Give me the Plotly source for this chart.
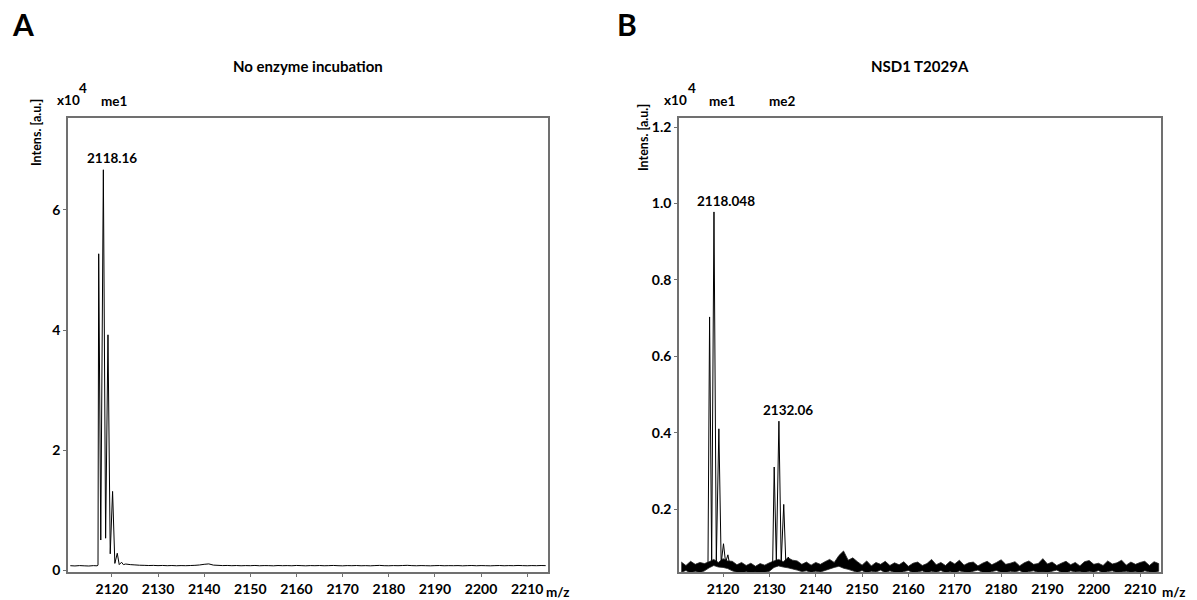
import plotly.graph_objects as go

# ---------------- Panel A: no enzyme incubation (intensity x10^4) ----------------
a_peak_mz = [2116.8, 2117.0, 2117.15, 2117.6, 2118.16, 2118.65, 2119.16, 2119.65,
             2120.16, 2120.65, 2121.17, 2121.6, 2122.1, 2122.5]
a_peak_int = [0.07, 0.08, 5.27, 0.50, 6.67, 0.53, 3.92, 0.27,
              1.31, 0.11, 0.28, 0.09, 0.13, 0.09]

a_base_mz = list(range(2111, 2117)) + list(range(2123, 2215))
a_base_int = [
    0.072, 0.068, 0.074, 0.070, 0.067, 0.073,
    0.100, 0.090, 0.085, 0.080, 0.078, 0.075, 0.077, 0.073, 0.076, 0.072,
    0.075, 0.071, 0.074, 0.072, 0.075, 0.078, 0.084, 0.095, 0.102, 0.082,
    0.078, 0.074, 0.076, 0.072, 0.075, 0.071, 0.074, 0.072,
    0.076, 0.071, 0.074, 0.073, 0.070, 0.075, 0.072, 0.074, 0.071, 0.076,
    0.073, 0.070, 0.074, 0.072, 0.075, 0.071, 0.073, 0.076, 0.072, 0.070,
    0.074, 0.072, 0.075, 0.071, 0.073, 0.070, 0.074, 0.077, 0.072, 0.071,
    0.074, 0.072, 0.075, 0.078, 0.073, 0.071, 0.074, 0.072, 0.070, 0.073,
    0.075, 0.071, 0.073, 0.072, 0.074, 0.070, 0.073, 0.075, 0.071, 0.074,
    0.072, 0.070, 0.073, 0.075, 0.071, 0.074, 0.072, 0.076, 0.073, 0.071,
    0.074, 0.072, 0.075, 0.073,
]

# ---------------- Panel B: NSD1 T2029A (intensity x10^4) ----------------
b_me1_mz = [2116.75, 2117.1, 2117.55, 2118.048, 2118.55, 2119.1, 2119.6,
            2120.1, 2120.55, 2121.05, 2121.5]
b_me1_int = [0.05, 0.703, 0.065, 0.978, 0.062, 0.41, 0.058,
             0.109, 0.06, 0.08, 0.05]
b_me2_mz = [2130.7, 2131.04, 2131.5, 2132.06, 2132.55, 2133.1, 2133.55,
            2134.1, 2134.5]
b_me2_int = [0.05, 0.31, 0.062, 0.43, 0.06, 0.212, 0.058, 0.074, 0.05]

# baseline noise envelope (upper / lower) per m/z unit
b_noise_mz = list(range(2111, 2215))
b_noise_hi = [
    0.061, 0.052, 0.063, 0.055, 0.060, 0.057,
    0.062, 0.068, 0.060, 0.070, 0.064,
    0.063, 0.054, 0.060, 0.052, 0.058, 0.050, 0.057, 0.053, 0.059,
    0.064, 0.068, 0.062, 0.072, 0.066,
    0.064, 0.055, 0.061, 0.053, 0.060, 0.055, 0.062,
    0.068, 0.060, 0.078, 0.090, 0.066, 0.072,
    0.062, 0.053, 0.064, 0.051, 0.060, 0.055, 0.063, 0.052, 0.059, 0.054,
    0.062, 0.050, 0.058, 0.061, 0.052, 0.057, 0.068, 0.054, 0.060, 0.052,
    0.063, 0.056, 0.066, 0.053, 0.059, 0.061, 0.051, 0.058, 0.063, 0.054,
    0.060, 0.067, 0.055, 0.058, 0.062, 0.051, 0.059, 0.064, 0.055, 0.057,
    0.070, 0.056, 0.061, 0.052, 0.058, 0.063, 0.054, 0.060, 0.051, 0.062,
    0.065, 0.055, 0.058, 0.052, 0.064, 0.056, 0.059, 0.066, 0.053, 0.061,
    0.055, 0.060, 0.063, 0.052, 0.062, 0.057,
]
b_noise_lo = [
    0.034, 0.039, 0.032, 0.037, 0.033, 0.038,
    0.046, 0.052, 0.048, 0.047, 0.044,
    0.038, 0.034, 0.031, 0.036, 0.032, 0.035, 0.030, 0.034, 0.037,
    0.047, 0.051, 0.048, 0.046, 0.043,
    0.040, 0.036, 0.038, 0.034, 0.037, 0.035, 0.039,
    0.043, 0.047, 0.050, 0.045, 0.042, 0.038,
    0.034, 0.039, 0.032, 0.037, 0.035, 0.040, 0.033, 0.038, 0.034, 0.031,
    0.036, 0.039, 0.033, 0.035, 0.038, 0.032, 0.037, 0.034, 0.039, 0.033,
    0.036, 0.031, 0.038, 0.035, 0.033, 0.037, 0.040, 0.034, 0.032, 0.036,
    0.039, 0.034, 0.033, 0.037, 0.035, 0.039, 0.032, 0.036, 0.038, 0.034,
    0.035, 0.033, 0.037, 0.040, 0.034, 0.032, 0.038, 0.035, 0.036, 0.033,
    0.037, 0.034, 0.039, 0.032, 0.036, 0.038, 0.033, 0.035, 0.037, 0.034,
    0.036, 0.032, 0.038, 0.035, 0.033, 0.037,
]

x_ticks = [2120, 2130, 2140, 2150, 2160, 2170, 2180, 2190, 2200, 2210]
a_y_ticks = [0, 2, 4, 6]
b_y_ticks = [0.2, 0.4, 0.6, 0.8, 1.0, 1.2]
b_y_labels = ["0.2", "0.4", "0.6", "0.8", "1.0", "1.2"]

W, H = 1197, 600
FONT = "Lato"


def px(x):
    return x / W


def py(y):
    return 1 - y / H


def bold(values):
    return [f"<b>{v}</b>" for v in values]


# merge baseline and isotope peaks of panel A into one trace
a_pts = sorted(zip(a_base_mz + a_peak_mz, a_base_int + a_peak_int))
a_x = [p[0] for p in a_pts]
a_y = [p[1] for p in a_pts]

# noise band of panel B: closed outline along the upper envelope and back
# along the lower envelope, filled solid
b_nx = b_noise_mz + b_noise_mz[::-1]
b_ny = b_noise_hi + b_noise_lo[::-1]

line = dict(color="black", width=1, simplify=False)
fig = go.Figure()
fig.add_trace(go.Scatter(x=a_x, y=a_y, mode="lines", line=line,
                         xaxis="x", yaxis="y", showlegend=False))
fig.add_trace(go.Scatter(x=b_nx, y=b_ny, mode="lines", fill="toself",
                         fillcolor="black",
                         line=dict(color="#222222", width=0.8, simplify=False),
                         xaxis="x2", yaxis="y2", showlegend=False))
fig.add_trace(go.Scatter(x=b_me1_mz, y=b_me1_int, mode="lines", line=line,
                         xaxis="x2", yaxis="y2", showlegend=False))
fig.add_trace(go.Scatter(x=b_me2_mz, y=b_me2_int, mode="lines", line=line,
                         xaxis="x2", yaxis="y2", showlegend=False))

tickfont = dict(family=FONT, size=14, color="black")
axis_common = dict(showgrid=False, zeroline=False, showline=True, mirror=True,
                   linecolor="#707070", linewidth=1.5, ticks="outside",
                   ticklen=3, tickcolor="#707070", tickfont=tickfont,
                   automargin=False)

xr = [2110.5, 2214.5]
ydom = [py(572), py(118)]
fig.update_layout(
    width=W, height=H,
    margin=dict(l=0, r=0, t=0, b=0),
    paper_bgcolor="white", plot_bgcolor="white",
    font=dict(family=FONT, color="black"),
    xaxis=dict(domain=[px(68), px(548)], range=xr, tickvals=x_ticks,
               ticktext=bold(x_ticks), anchor="y", **axis_common),
    yaxis=dict(domain=ydom, range=[-0.033, 7.533], tickvals=a_y_ticks,
               ticktext=bold(a_y_ticks), anchor="x", **axis_common),
    xaxis2=dict(domain=[px(679), px(1161)], range=xr, tickvals=x_ticks,
                ticktext=bold(x_ticks), anchor="y2", **axis_common),
    yaxis2=dict(domain=ydom, range=[0.035, 1.224], tickvals=b_y_ticks,
                ticktext=bold(b_y_labels), anchor="x2", **axis_common),
)


def label(text, x, y, size=13.5, **kw):
    fig.add_annotation(text=f"<b>{text}</b>", x=px(x), y=py(y),
                       xref="paper", yref="paper",
                       showarrow=False, xanchor="center", yanchor="middle",
                       font=dict(family=FONT, size=size, color="black"), **kw)


# panel letters and titles
label("A", 23, 24, size=30)
label("B", 627, 24, size=30)
label("No enzyme incubation", 308, 66, size=15)
label("NSD1 T2029A", 920, 66, size=15)

# axis captions
label("Intens. [a.u.]", 36, 133, size=12.5, textangle=-90)
label("Intens. [a.u.]", 643, 138, size=12.5, textangle=-90)
label("x10", 68, 100)
label("4", 83, 88)
label("x10", 675, 100)
label("4", 692, 88)
label("m/z", 558, 592)
label("m/z", 1174, 592)

# modification state markers
label("me1", 114, 101)
label("me1", 722, 101)
label("me2", 782, 101)

# peak m/z annotations
peak_font = dict(family=FONT, size=13.5, color="black")
fig.add_annotation(text="<b>2118.16</b>", x=2118.16, y=6.67, xref="x", yref="y",
                   showarrow=False, yanchor="bottom", xshift=9, yshift=2,
                   font=peak_font)
fig.add_annotation(text="<b>2118.048</b>", x=2118.048, y=0.978, xref="x2",
                   yref="y2", showarrow=False, yanchor="bottom", xshift=12,
                   yshift=1, font=peak_font)
fig.add_annotation(text="<b>2132.06</b>", x=2132.06, y=0.43, xref="x2",
                   yref="y2", showarrow=False, yanchor="bottom", xshift=9,
                   yshift=1, font=peak_font)

fig.write_html("out.html")
